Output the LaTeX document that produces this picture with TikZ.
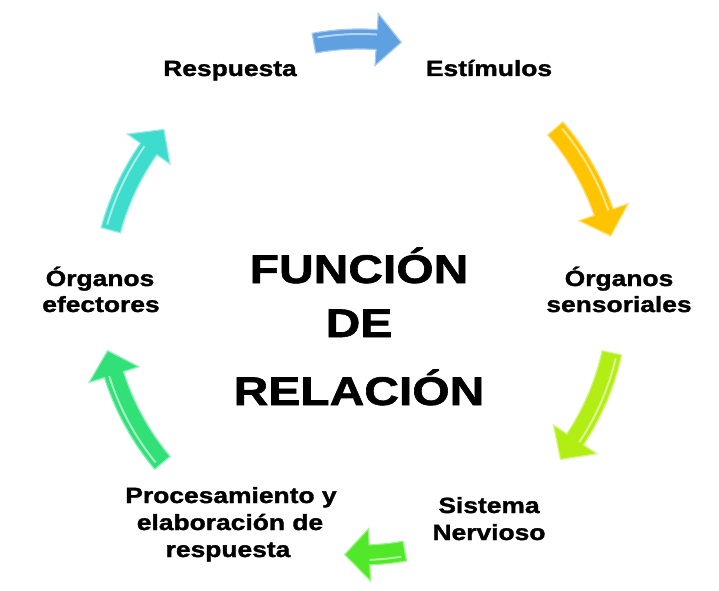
\documentclass[tikz,border=0pt]{standalone}
\usepackage{fontspec}
\newfontfamily\lblfont{Liberation Sans Bold}[FakeStretch=1.2, FakeBold=1.5]
\begin{document}
\begin{tikzpicture}[x=1pt,y=1pt,
  lbl/.style={font=\lblfont\fontsize{22}{27}\selectfont, anchor=base, inner sep=0pt},
  ttl/.style={font=\lblfont\fontsize{40}{50}\selectfont, anchor=base, inner sep=0pt}]
\definecolor{cblue}{RGB}{95,160,225}
\definecolor{cyel}{RGB}{255,196,0}
\definecolor{clime}{RGB}{178,238,20}
\definecolor{cgreen}{RGB}{80,232,40}
\definecolor{cspring}{RGB}{50,224,120}
\definecolor{cturq}{RGB}{62,220,205}
\fill[white] (0,0) rectangle (719,590);
\useasboundingbox (0,0) rectangle (719,590);
% curved block arrow: color, start angle, end angle (clockwise)
\newcommand{\cyclearrow}[3]{%
  \begin{scope}[shift={(360,293)}]
    \pgfmathsetmacro{\hb}{#3+5.5}
    \filldraw[fill=#1, draw=#1!55!white, line width=1.2pt, line join=miter]
      (#2:268) arc[start angle=#2, end angle=\hb, radius=268]
      -- (\hb:284) -- (#3:258) -- (\hb:232) -- (\hb:248)
      arc[start angle=\hb, end angle=#2, radius=248] -- cycle;
    \draw[white, opacity=0.55, line width=2pt]
      (#2-1:263) arc[start angle=#2-1, end angle=\hb, radius=263];
  \end{scope}}
\cyclearrow{cblue}{100.3}{80.8}
\cyclearrow{cyel}{40.8}{13.7}
\cyclearrow{clime}{-12.5}{-39}
\cyclearrow{cgreen}{-80}{-93.4}
\cyclearrow{cspring}{220}{192}
\cyclearrow{cturq}{165}{139.5}
\node[lbl] (resp) at (230,514) {Respuesta};
\node[lbl] (estim) at (489,514) {Estímulos};
\node[lbl] (sens1) at (619,304) {Órganos};
\node[lbl] (sens2) at (619,278) {sensoriales};
\node[lbl] (sist1) at (489,77) {Sistema};
\node[lbl] (sist2) at (489,50) {Nervioso};
\node[lbl] (proc1) at (231,87) {Procesamiento y};
\node[lbl] (proc2) at (230,60) {elaboración de};
\node[lbl] (proc3) at (228,33) {respuesta};
\node[lbl] (efec1) at (100,304) {Órganos};
\node[lbl] (efec2) at (101,278) {efectores};
\node[ttl] (title1) at (359,307) {FUNCIÓN};
\node[ttl] (title2) at (359,253) {DE};
\node[ttl] (title3) at (359,185) {RELACIÓN};
\end{tikzpicture}
\end{document}
